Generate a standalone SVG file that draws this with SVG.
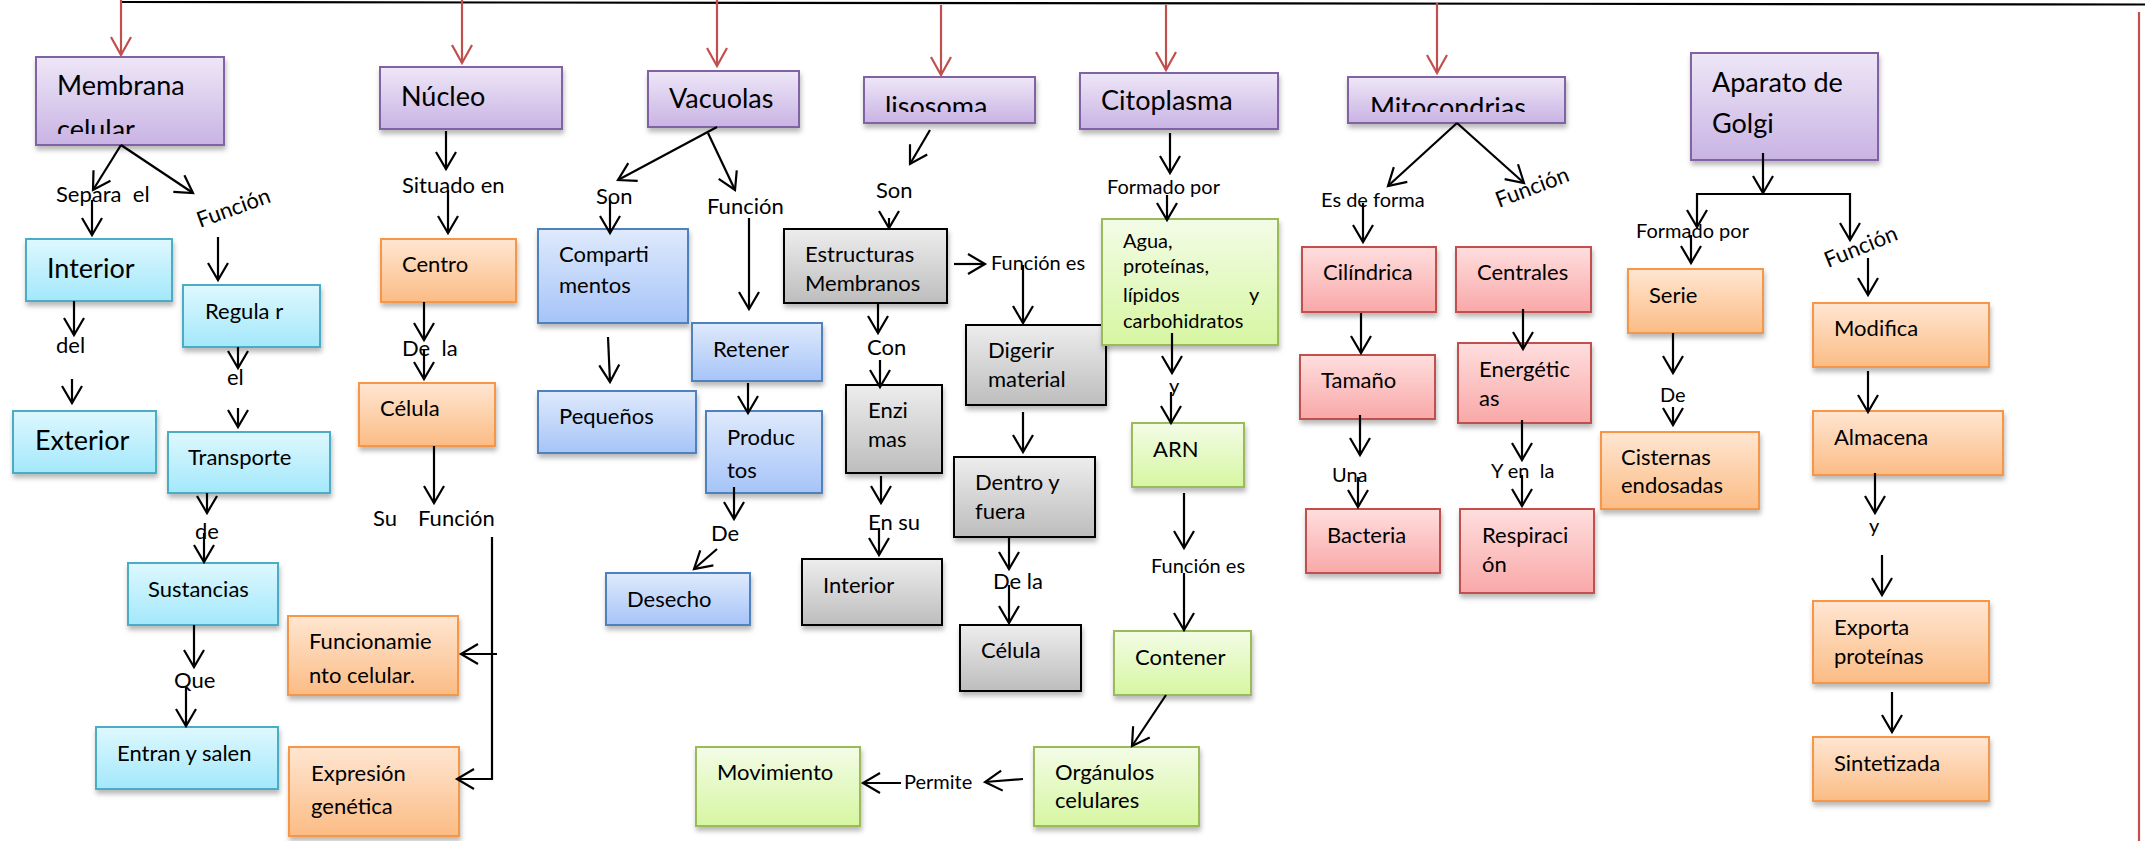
<svg xmlns="http://www.w3.org/2000/svg" width="2145" height="841" viewBox="0 0 2145 841">
<defs>
<linearGradient id="gPurple" x1="0" y1="0" x2="0" y2="1"><stop offset="0" stop-color="#EEE7F7"/><stop offset="1" stop-color="#C9B3E4"/></linearGradient>
<linearGradient id="gCyan" x1="0" y1="0" x2="0" y2="1"><stop offset="0" stop-color="#DEF8FE"/><stop offset="1" stop-color="#A3E8FB"/></linearGradient>
<linearGradient id="gOrange" x1="0" y1="0" x2="0" y2="1"><stop offset="0" stop-color="#FFE6D2"/><stop offset="1" stop-color="#FBBC85"/></linearGradient>
<linearGradient id="gBlue" x1="0" y1="0" x2="0" y2="1"><stop offset="0" stop-color="#DFEAFC"/><stop offset="1" stop-color="#A6C4F8"/></linearGradient>
<linearGradient id="gGray" x1="0" y1="0" x2="0" y2="1"><stop offset="0" stop-color="#EDEDED"/><stop offset="1" stop-color="#BDBDBD"/></linearGradient>
<linearGradient id="gGreen" x1="0" y1="0" x2="0" y2="1"><stop offset="0" stop-color="#F3FCE7"/><stop offset="1" stop-color="#D6F6A1"/></linearGradient>
<linearGradient id="gRed" x1="0" y1="0" x2="0" y2="1"><stop offset="0" stop-color="#FFDEDE"/><stop offset="1" stop-color="#F9A8A8"/></linearGradient>
<filter id="sh" x="-10%" y="-10%" width="130%" height="150%"><feDropShadow dx="1" dy="4" stdDeviation="2.5" flood-color="#000" flood-opacity="0.28"/></filter>
<marker id="a" viewBox="-20 -12 24 24" refX="0" refY="0" markerWidth="24" markerHeight="24" markerUnits="userSpaceOnUse" orient="auto" overflow="visible"><path d="M-17,-10 L0,0 L-17,10" fill="none" stroke="#000" stroke-width="2.2"/></marker>
<marker id="ar" viewBox="-20 -12 24 24" refX="0" refY="0" markerWidth="24" markerHeight="24" markerUnits="userSpaceOnUse" orient="auto" overflow="visible"><path d="M-18,-10 L0,0 L-18,10" fill="none" stroke="#C0504D" stroke-width="2.2"/></marker>
<clipPath id="cMem"><rect x="36" y="57" width="188" height="77"/></clipPath>
<clipPath id="cLis"><rect x="864" y="77" width="171" height="35"/></clipPath>
<clipPath id="cMit"><rect x="1348" y="77" width="217" height="35"/></clipPath>
<style>
text{font-family:Lato,"Liberation Sans",sans-serif;fill:#000}
.L{font-size:27px}
.M{font-size:22px}
.S{font-size:20px}
rect{stroke-width:2;filter:url(#sh)}
.purple{fill:url(#gPurple);stroke:#8064A2}
.cyan{fill:url(#gCyan);stroke:#4BACC6}
.orange{fill:url(#gOrange);stroke:#F79646}
.blue{fill:url(#gBlue);stroke:#4F81BD}
.gray{fill:url(#gGray);stroke:#000}
.green{fill:url(#gGreen);stroke:#9BBB59}
.red{fill:url(#gRed);stroke:#C0504D}
.c path{fill:none;stroke:#000;stroke-width:2.2;marker-end:url(#a)}
.c path.r{stroke:#C0504D;marker-end:url(#ar)}
.c path.n{marker-end:none}
</style>
</defs>
<rect width="2145" height="841" fill="#fff" style="filter:none;stroke:none"/>

<g id="membrana"><rect class="purple" x="36" y="57" width="188" height="88"/><g clip-path="url(#cMem)"><text class="L" x="57" y="95">Membrana</text><text class="L" x="57" y="139">celular</text></g></g>
<g id="nucleo"><rect class="purple" x="380" y="67" width="182" height="62"/><text class="L" x="401" y="106">Núcleo</text></g>
<g id="vacuolas"><rect class="purple" x="648" y="71" width="151" height="56"/><text class="L" x="669" y="108">Vacuolas</text></g>
<g id="lisosoma"><rect class="purple" x="864" y="77" width="171" height="46"/><g clip-path="url(#cLis)"><text class="L" x="885" y="116">lisosoma</text></g></g>
<g id="citoplasma"><rect class="purple" x="1080" y="73" width="198" height="56"/><text class="L" x="1101" y="110">Citoplasma</text></g>
<g id="mitocondrias"><rect class="purple" x="1348" y="77" width="217" height="46"/><g clip-path="url(#cMit)"><text class="L" x="1370" y="117">Mitocondrias</text></g></g>
<g id="golgi"><rect class="purple" x="1691" y="53" width="187" height="107"/><text class="L" x="1712" y="92">Aparato de</text><text class="L" x="1712" y="133">Golgi</text></g>

<g id="interior"><rect class="cyan" x="26" y="239" width="146" height="62"/><text class="L" x="47" y="278">Interior</text></g>
<g id="exterior"><rect class="cyan" x="13" y="411" width="143" height="62"/><text class="L" x="35" y="450">Exterior</text></g>
<g id="regular"><rect class="cyan" x="183" y="285" width="137" height="62"/><text class="M" x="205" y="319">Regula r</text></g>
<g id="transporte"><rect class="cyan" x="168" y="432" width="162" height="61"/><text class="M" x="188" y="465">Transporte</text></g>
<g id="sustancias"><rect class="cyan" x="128" y="563" width="150" height="62"/><text class="M" x="148" y="597">Sustancias</text></g>
<g id="entran"><rect class="cyan" x="96" y="727" width="182" height="62"/><text class="M" x="117" y="761">Entran y salen</text></g>

<g id="centro"><rect class="orange" x="381" y="239" width="135" height="63"/><text class="M" x="402" y="272">Centro</text></g>
<g id="celula1"><rect class="orange" x="359" y="383" width="136" height="63"/><text class="M" x="380" y="416">Célula</text></g>
<g id="funcionamiento"><rect class="orange" x="288" y="616" width="170" height="79"/><text class="M" x="309" y="649">Funcionamie</text><text class="M" x="309" y="683">nto celular.</text></g>
<g id="expresion"><rect class="orange" x="289" y="747" width="170" height="89"/><text class="M" x="311" y="781">Expresión</text><text class="M" x="311" y="814">genética</text></g>

<g id="compartimentos"><rect class="blue" x="538" y="229" width="150" height="94"/><text class="M" x="559" y="262">Comparti</text><text class="M" x="559" y="293">mentos</text></g>
<g id="pequenos"><rect class="blue" x="538" y="391" width="158" height="62"/><text class="M" x="559" y="424">Pequeños</text></g>
<g id="retener"><rect class="blue" x="692" y="323" width="130" height="58"/><text class="M" x="713" y="357">Retener</text></g>
<g id="productos"><rect class="blue" x="706" y="411" width="116" height="82"/><text class="M" x="727" y="445">Produc</text><text class="M" x="727" y="478">tos</text></g>
<g id="desecho"><rect class="blue" x="606" y="573" width="144" height="52"/><text class="M" x="627" y="607">Desecho</text></g>

<g id="estructuras"><rect class="gray" x="784" y="229" width="163" height="74"/><text class="M" x="805" y="262">Estructuras</text><text class="M" x="805" y="291">Membranos</text></g>
<g id="enzimas"><rect class="gray" x="846" y="385" width="96" height="88"/><text class="M" x="868" y="418">Enzi</text><text class="M" x="868" y="447">mas</text></g>
<g id="interior2"><rect class="gray" x="802" y="559" width="140" height="66"/><text class="M" x="823" y="593">Interior</text></g>
<g id="digerir"><rect class="gray" x="966" y="325" width="140" height="80"/><text class="M" x="988" y="358">Digerir</text><text class="M" x="988" y="387">material</text></g>
<g id="dentro"><rect class="gray" x="954" y="457" width="141" height="80"/><text class="M" x="975" y="490">Dentro y</text><text class="M" x="975" y="519">fuera</text></g>
<g id="celula2"><rect class="gray" x="960" y="625" width="121" height="66"/><text class="M" x="981" y="658">Célula</text></g>

<g id="agua"><rect class="green" x="1102" y="219" width="176" height="126"/><text class="S" x="1123" y="248">Agua,</text><text class="S" x="1123" y="273">proteínas,</text><text class="S" x="1123" y="302">lípidos</text><text class="S" x="1249" y="302">y</text><text class="S" x="1123" y="328">carbohidratos</text></g>
<g id="arn"><rect class="green" x="1132" y="423" width="112" height="64"/><text class="M" x="1153" y="457">ARN</text></g>
<g id="contener"><rect class="green" x="1114" y="631" width="137" height="64"/><text class="M" x="1135" y="665">Contener</text></g>
<g id="organulos"><rect class="green" x="1034" y="747" width="165" height="79"/><text class="M" x="1055" y="780">Orgánulos</text><text class="M" x="1055" y="808">celulares</text></g>
<g id="movimiento"><rect class="green" x="696" y="747" width="164" height="79"/><text class="M" x="717" y="780">Movimiento</text></g>

<g id="cilindrica"><rect class="red" x="1302" y="247" width="134" height="65"/><text class="M" x="1323" y="280">Cilíndrica</text></g>
<g id="tamano"><rect class="red" x="1300" y="355" width="135" height="64"/><text class="M" x="1321" y="388">Tamaño</text></g>
<g id="bacteria"><rect class="red" x="1306" y="509" width="134" height="64"/><text class="M" x="1327" y="543">Bacteria</text></g>
<g id="centrales"><rect class="red" x="1456" y="247" width="135" height="65"/><text class="M" x="1477" y="280">Centrales</text></g>
<g id="energeticas"><rect class="red" x="1458" y="343" width="133" height="80"/><text class="M" x="1479" y="377">Energétic</text><text class="M" x="1479" y="406">as</text></g>
<g id="respiracion"><rect class="red" x="1460" y="509" width="134" height="84"/><text class="M" x="1482" y="543">Respiraci</text><text class="M" x="1482" y="572">ón</text></g>

<g id="serie"><rect class="orange" x="1628" y="269" width="135" height="64"/><text class="M" x="1649" y="303">Serie</text></g>
<g id="cisternas"><rect class="orange" x="1601" y="432" width="158" height="77"/><text class="M" x="1621" y="465">Cisternas</text><text class="M" x="1621" y="493">endosadas</text></g>
<g id="modifica"><rect class="orange" x="1813" y="303" width="176" height="64"/><text class="M" x="1834" y="336">Modifica</text></g>
<g id="almacena"><rect class="orange" x="1813" y="411" width="190" height="64"/><text class="M" x="1834" y="445">Almacena</text></g>
<g id="exporta"><rect class="orange" x="1813" y="601" width="176" height="82"/><text class="M" x="1834" y="635">Exporta</text><text class="M" x="1834" y="664">proteínas</text></g>
<g id="sintetizada"><rect class="orange" x="1813" y="737" width="176" height="64"/><text class="M" x="1834" y="771">Sintetizada</text></g>

<g id="labels">
<text class="M" x="56" y="202" xml:space="preserve">Separa  el</text>
<text class="M" transform="translate(200,228) rotate(-20)">Función</text>
<text class="M" x="56" y="353">del</text>
<text class="M" x="227" y="385">el</text>
<text class="M" x="195" y="539">de</text>
<text class="M" x="174" y="688">Que</text>
<text class="M" x="402" y="193">Situado en</text>
<text class="M" x="402" y="356" xml:space="preserve">De  la</text>
<text class="M" x="373" y="526">Su</text>
<text class="M" x="418" y="526">Función</text>
<text class="M" x="596" y="204">Son</text>
<text class="M" x="707" y="214">Función</text>
<text class="M" x="711" y="541">De</text>
<text class="M" x="876" y="198">Son</text>
<text class="S" x="991" y="270">Función es</text>
<text class="M" x="867" y="355">Con</text>
<text class="M" x="868" y="530">En su</text>
<text class="M" x="993" y="589">De la</text>
<text class="S" x="1107" y="194">Formado por</text>
<text class="S" x="1169" y="393">y</text>
<text class="S" x="1151" y="573">Función es</text>
<text class="S" x="904" y="789">Permite</text>
<text class="S" x="1321" y="207">Es de forma</text>
<text class="M" transform="translate(1499,208) rotate(-21)">Función</text>
<text class="S" x="1332" y="482">Una</text>
<text class="S" x="1491" y="478" xml:space="preserve">Y en  la</text>
<text class="S" x="1636" y="238">Formado por</text>
<text class="M" transform="translate(1828,268) rotate(-22)">Función</text>
<text class="S" x="1660" y="402">De</text>
<text class="S" x="1869" y="533">y</text>
</g>

<g id="connectors" class="c">
<path class="n" d="M121,2 L2145,4.5"/>
<path class="r n" d="M2139,12 V841"/>
<path class="r" d="M121,0 V55"/>
<path class="r" d="M462,0 V63"/>
<path class="r" d="M717,0 V66"/>
<path class="r" d="M941,5 V75"/>
<path class="r" d="M1166,5 V70"/>
<path class="r" d="M1437,3 V73"/>

<path d="M121,145 L93,190"/>
<path d="M121,145 L193,193"/>
<path d="M92,200 V235"/>
<path d="M218,237 V280"/>
<path d="M74,301 V335"/>
<path d="M72,379 V403"/>
<path d="M238,347 V368"/>
<path d="M238,408 V427"/>
<path d="M207,493 V513"/>
<path d="M204,533 V562"/>
<path d="M194,625 V667"/>
<path d="M186,687 V726"/>

<path d="M446,131 V169"/>
<path d="M448,190 V233"/>
<path d="M424,302 V340"/>
<path d="M424,350 V379"/>
<path d="M434,446 V503"/>
<path d="M492,537 V779 H457"/>
<path d="M497,654 H461"/>

<path d="M717,127 L618,180"/>
<path d="M708,133 L735,190"/>
<path d="M610,200 V233"/>
<path d="M749,218 V309"/>
<path d="M608,337 L610,382"/>
<path d="M748,383 V413"/>
<path d="M734,487 V519"/>
<path d="M717,549 L694,569"/>

<path d="M930,130 L910,164"/>
<path d="M889,218 V228"/>
<path d="M954,264 H985"/>
<path d="M1023,265 V323"/>
<path d="M878,303 V333"/>
<path d="M880,360 V387"/>
<path d="M881,476 V503"/>
<path d="M879,528 V555"/>
<path d="M1023,412 V452"/>
<path d="M1009,537 V569"/>
<path d="M1009,585 V623"/>

<path d="M1170,133 V173"/>
<path d="M1167,195 V220"/>
<path d="M1172,333 V373"/>
<path d="M1171,392 V423"/>
<path d="M1184,493 V548"/>
<path d="M1184,573 V630"/>
<path d="M1166,695 L1132,746"/>
<path d="M1023,779 L985,782"/>
<path d="M901,783 H863"/>

<path d="M1457,123 L1388,186"/>
<path d="M1457,123 L1524,183"/>
<path d="M1363,203 V242"/>
<path d="M1361,313 V353"/>
<path d="M1360,415 V455"/>
<path d="M1358,477 V507"/>
<path d="M1523,309 V349"/>
<path d="M1522,420 V460"/>
<path d="M1522,475 V506"/>

<path d="M1763,153 V193"/>
<path d="M1763,194 H1697 V227"/>
<path d="M1763,194 H1850 V240"/>
<path d="M1691,235 V263"/>
<path d="M1868,258 V295"/>
<path d="M1673,333 V373"/>
<path d="M1673,407 V425"/>
<path d="M1868,371 V412"/>
<path d="M1875,473 V513"/>
<path d="M1882,555 V595"/>
<path d="M1892,692 V732"/>
</g>
</svg>
